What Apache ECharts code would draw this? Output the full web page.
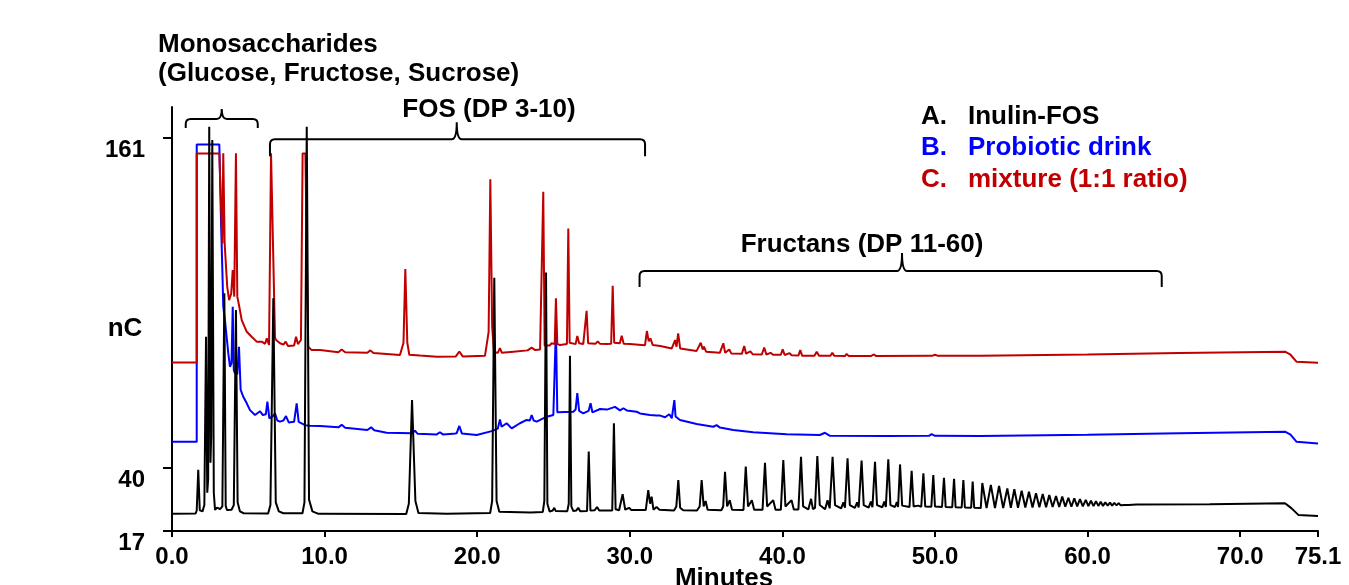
<!DOCTYPE html>
<html>
<head>
<meta charset="utf-8">
<script src="https://cdn.jsdelivr.net/npm/echarts@6/dist/echarts.min.js"></script>
<style>
  html, body { margin: 0; background: #fff; }
  #chart { width: 1349px; height: 585px; }
</style>
</head>
<body>
<div id="chart"></div>
<script>
// tick labels
const xTicks = [0, 10, 20, 30, 40, 50, 60, 70, 75.1];
const yTicks = [17, 40, 161];

// A. Inulin-FOS  [minutes, nC]
const traceA = [
  [0, 23.3], [1.55, 23.4], [1.62, 24.5], [1.72, 39.4], [1.82, 24.6], [2.0, 24.2], [2.12, 26.5], [2.23, 88.2],
  [2.31, 31], [2.37, 36], [2.44, 165.2], [2.52, 42], [2.57, 52], [2.64, 160.3], [2.74, 31], [2.82, 24.7],
  [2.95, 25.6], [3.05, 26.2], [3.15, 25.0], [3.3, 26.0], [3.43, 104.1], [3.52, 26.2], [3.6, 24.7], [3.9, 24.8],
  [4.05, 26.5], [4.19, 98.0], [4.3, 27.5], [4.45, 24.2], [4.7, 23.5], [6.3, 23.4], [6.45, 26.5], [6.64, 102.3],
  [6.8, 27.5], [7.0, 24.2], [7.3, 23.5], [8.55, 23.5], [8.68, 27.5], [8.83, 165.2], [8.98, 28.5], [9.2, 24.2],
  [9.6, 23.3], [15.35, 23.2], [15.52, 27], [15.73, 65.0], [15.95, 28], [16.15, 23.6], [18.0, 23.3], [20.85, 23.6],
  [20.98, 28], [21.12, 109.8], [21.27, 28], [21.45, 24.1], [23.5, 23.8], [24.3, 24.0], [24.4, 28], [24.51, 111.7],
  [24.6, 27], [24.75, 24.1], [24.95, 24.5], [25.05, 25.5], [25.15, 24.3], [25.9, 24.2], [26.0, 27], [26.08, 81.2],
  [26.17, 26], [26.3, 24.3], [26.5, 24.5], [26.62, 25.5], [26.75, 24.2], [27.2, 24.3], [27.31, 46.1], [27.42, 24.5],
  [27.7, 24.6], [27.85, 25.8], [28.0, 24.5], [28.85, 24.5], [28.96, 56.5], [29.07, 25], [29.3, 24.6], [29.53, 30.5],
  [29.7, 24.8], [29.95, 25.5], [30.1, 24.7], [31.05, 24.7], [31.21, 32.0], [31.33, 27], [31.43, 29.6], [31.55, 24.8],
  [31.75, 25.8], [31.95, 24.8], [32.9, 24.5], [33.05, 26], [33.18, 35.7], [33.3, 25.5], [33.5, 24.6], [34.4, 24.5],
  [34.58, 26], [34.71, 35.7], [34.84, 26], [34.97, 28.0], [35.1, 24.8], [36.0, 24.6], [36.12, 26], [36.24, 38.7],
  [36.38, 26], [36.55, 28.3], [36.7, 24.8], [37.45, 24.7], [37.6, 40.6], [37.75, 26], [38.0, 28.3], [38.15, 24.8],
  [38.7, 24.8], [38.86, 42.0], [39.0, 26], [39.4, 28.3], [39.55, 24.8], [39.9, 24.8], [40.06, 43.0], [40.2, 26],
  [40.6, 28.3], [40.75, 24.9], [41.05, 24.9], [41.22, 44.2], [41.36, 26], [41.7, 24.9], [41.88, 28.8], [42.0, 25],
  [42.14, 25.5], [42.29, 44.5], [42.45, 26.5], [42.8, 25], [42.96, 28.3], [43.1, 25.3], [43.29, 44.2], [43.45, 26.5],
  [43.85, 25.3], [44.0, 27.5], [44.1, 25.5], [44.27, 43.6], [44.42, 26.5], [44.75, 25.5], [44.9, 27.5], [45.0, 25.6],
  [45.19, 42.8], [45.33, 26.5], [45.65, 25.6], [45.8, 27.8], [45.9, 25.7], [46.07, 42.4], [46.2, 26.5], [46.55, 25.7],
  [46.68, 27.8], [46.78, 25.8], [46.94, 43.3], [47.08, 26.5], [47.38, 25.8], [47.5, 27.6], [47.58, 25.8], [47.71, 41.4],
  [47.85, 26.3], [48.33, 25.8], [48.47, 39.1], [48.6, 26], [48.9, 26.3], [49.1, 25.9], [49.24, 38.1], [49.36, 26],
  [49.76, 25.9], [49.89, 37.5], [50.0, 26], [50.46, 25.8], [50.59, 36.5], [50.7, 25.8], [51.13, 25.7], [51.25, 36.1],
  [51.35, 25.7], [51.75, 25.6], [51.86, 35.7], [51.96, 25.6], [52.37, 25.5], [52.47, 35.1], [52.57, 25.5], [53.0, 25.4],
  [53.1, 34.6], [53.38, 25.4], [53.66, 33.9], [53.93, 25.4], [54.2, 33.5], [54.47, 25.4], [54.74, 32.6], [54.97, 25.5],
  [55.2, 32.3], [55.44, 25.5], [55.68, 31.8], [55.92, 25.6], [56.16, 31.4], [56.39, 25.6], [56.62, 30.8], [56.84, 25.7],
  [57.06, 30.6], [57.28, 25.7], [57.49, 30.2], [57.71, 25.8], [57.93, 29.8], [58.14, 25.8], [58.34, 29.6], [58.54, 25.9],
  [58.74, 29.2], [58.94, 25.9], [59.13, 29.0], [59.32, 26.0], [59.5, 28.7], [59.69, 26.0], [59.88, 28.4], [60.05, 26.1],
  [60.22, 28.1], [60.39, 26.1], [60.55, 27.9], [60.71, 26.2], [60.86, 27.7], [61.01, 26.2], [61.16, 27.5], [61.32, 26.3],
  [61.47, 27.4], [61.61, 26.3], [61.75, 27.3], [61.9, 26.4], [62.04, 27.2], [62.17, 26.4], [62.3, 27.0], [62.43, 26.5],
  [62.56, 27.0], [62.69, 26.5], [62.82, 26.9], [63.2, 26.7], [68.0, 26.8], [72.94, 27.2], [73.37, 25.3], [73.81, 22.9],
  [75.1, 22.5]
];

// B. Probiotic drink
const traceB = [
  [0, 49.7], [1.62, 49.7], [1.62, 158.7], [3.10, 158.7], [3.21, 131.0], [3.30, 112.6], [3.36, 99.2], [3.47, 94.3],
  [3.58, 88.2], [3.69, 82.1], [3.80, 77.2], [3.9, 78.5], [3.98, 99.2], [4.05, 76], [4.12, 74.8], [4.28, 74.5],
  [4.39, 84.5], [4.50, 68.7], [4.67, 66.2], [4.90, 63.8], [5.11, 61.3], [5.44, 59.5], [5.77, 60.9], [5.95, 59.5],
  [6.15, 59.8], [6.25, 64.4], [6.38, 58.3], [6.6, 59], [6.75, 60.1], [6.9, 57.5], [7.08, 57.1], [7.3, 57.5],
  [7.47, 59.1], [7.65, 56.8], [7.73, 56.5], [8.0, 57], [8.17, 63.8], [8.3, 57], [8.39, 56.5], [8.72, 55.8],
  [9.04, 55.6], [9.7, 55.5], [10.9, 55.0], [11.12, 55.9], [11.35, 54.8], [12.8, 54.0], [13.05, 55.0], [13.25, 53.9],
  [14.07, 53.0], [15.75, 52.8], [15.92, 53.8], [16.1, 52.6], [17.35, 52.4], [17.56, 53.2], [17.75, 52.4], [18.43, 52.6],
  [18.65, 52.8], [18.83, 55.5], [19.0, 52.7], [19.97, 52.2], [20.95, 53.6], [21.35, 54.5], [21.49, 57.9], [21.6, 55.2],
  [21.71, 55.2], [21.93, 56.5], [22.26, 54.6], [22.8, 56.5], [23.24, 57.7], [23.45, 57.5], [23.57, 59.5], [23.7, 57.5],
  [23.9, 57.1], [24.55, 58.9], [24.99, 59.5], [25.08, 60], [25.16, 91.3], [25.25, 60.5], [25.38, 60.1], [26.3, 60.7],
  [26.45, 61.5], [26.56, 67.5], [26.68, 61], [26.95, 60.1], [27.3, 61], [27.43, 63.8], [27.55, 60.5], [27.61, 60.1],
  [28.05, 61.7], [28.5, 61.5], [29.03, 62.5], [29.36, 61.2], [29.58, 62.0], [29.8, 61.2], [30.45, 60.7], [30.67, 60.1],
  [31.32, 59.5], [31.75, 59.3], [31.87, 59.8], [32.0, 59.3], [32.31, 58.7], [32.59, 59.8], [32.75, 58.3], [32.85, 59],
  [32.92, 65.0], [33.0, 59], [33.07, 58.3], [33.29, 57.7], [34.38, 56.2], [35.47, 55.2], [35.69, 55.8], [35.91, 54.9],
  [36.78, 54.0], [38.09, 53.2], [40.28, 52.5], [42.46, 52.2], [42.79, 53.0], [43.12, 51.9], [46.83, 51.8], [49.6, 51.9],
  [49.78, 52.5], [50.0, 51.9], [52.95, 51.8], [60, 52.3], [66, 52.8], [72.94, 53.4], [73.3, 52.3], [73.7, 49.7],
  [75.1, 49.1]
];

// C. mixture (1:1 ratio)
const traceC = [
  [0, 78.8], [1.62, 78.8], [1.62, 155.4], [3.10, 155.4], [3.21, 137.1], [3.30, 122.4], [3.36, 155.4], [3.45, 122.4],
  [3.54, 113.9], [3.62, 106.5], [3.74, 101.6], [3.88, 104], [3.98, 112.6], [4.08, 102.9], [4.19, 155.4], [4.28, 102.9],
  [4.41, 99.2], [4.57, 94.3], [4.90, 90.0], [5.22, 88.2], [5.55, 86.4], [5.88, 86.4], [6.1, 85.6], [6.21, 87.6],
  [6.36, 85.2], [6.49, 155.4], [6.62, 155.4], [6.75, 88], [6.82, 87.0], [7.08, 85.8], [7.3, 85.3], [7.45, 86.4],
  [7.6, 84.8], [7.73, 84.5], [8.0, 85], [8.13, 88.2], [8.25, 85.5], [8.45, 87], [8.56, 155.4], [8.74, 155.4],
  [8.93, 84.5], [9.15, 83.3], [9.7, 83.3], [10.9, 82.5], [11.12, 83.5], [11.35, 82.5], [12.8, 82.3], [13.0, 83.2],
  [13.2, 82.2], [14.94, 81.5], [15.05, 81.6], [15.17, 86], [15.29, 113.0], [15.42, 86], [15.55, 81.6], [16.25, 81.3],
  [17.35, 80.9], [18.6, 81.0], [18.83, 82.8], [19.05, 81.0], [20.51, 81.2], [20.62, 81.5], [20.75, 90], [20.86, 145.9],
  [20.98, 92], [21.1, 82.5], [21.35, 82.3], [21.49, 84.0], [21.62, 82.3], [22.37, 82.7], [23.3, 83.2], [23.57, 84.2],
  [23.8, 83.3], [24.12, 83.5], [24.22, 84.0], [24.33, 141.3], [24.42, 85.0], [24.55, 84.5], [24.75, 85.0], [24.88, 85.8],
  [25.08, 85.5], [25.16, 102.3], [25.25, 85.5], [25.43, 85.2], [25.88, 85.5], [25.97, 127.9], [26.06, 86.0], [26.19, 85.5],
  [26.45, 85.5], [26.56, 88.5], [26.68, 85.8], [26.95, 85.5], [27.08, 85.6], [27.17, 97.7], [27.27, 85.8], [27.75, 85.6],
  [27.9, 86.5], [28.05, 85.6], [28.49, 85.5], [28.78, 85.6], [28.88, 106.9], [28.98, 86.0], [29.35, 85.8], [29.47, 88.6],
  [29.6, 85.6], [30.01, 85.5], [30.78, 85.2], [31.0, 85.1], [31.12, 90.3], [31.24, 86.5], [31.35, 87.6], [31.5, 85.2],
  [32.0, 84.8], [32.75, 83.9], [32.88, 84.3], [32.97, 87.0], [33.06, 84.5], [33.17, 89.4], [33.3, 83.9], [34.38, 83.0],
  [34.65, 86.0], [34.78, 83.5], [34.86, 84.6], [35.0, 82.7], [35.9, 82.3], [36.13, 85.8], [36.25, 82.3], [36.52, 83.5],
  [36.65, 82.1], [37.35, 82.0], [37.5, 84.8], [37.62, 82.0], [37.9, 82.8], [38.05, 81.8], [38.65, 81.7], [38.81, 84.2],
  [38.95, 81.7], [39.23, 82.3], [39.38, 81.6], [39.9, 81.6], [40.02, 83.6], [40.15, 81.5], [40.47, 82.2], [40.6, 81.4],
  [41.05, 81.3], [41.17, 83.3], [41.3, 81.2], [42.1, 81.2], [42.25, 82.7], [42.4, 81.2], [43.15, 81.2], [43.27, 82.3],
  [43.4, 81.2], [44.1, 81.1], [44.21, 81.9], [44.35, 81.1], [45.8, 81.1], [46.0, 81.7], [46.15, 81.1], [49.8, 81.2],
  [50.0, 81.6], [50.2, 81.2], [52.95, 81.2], [60, 81.7], [66, 82.2], [72.94, 82.7], [73.3, 81.6], [73.7, 79.0],
  [75.1, 78.7]
];

// brace annotations over the peak groups (minutes / nC), drop & rise in px
const brackets = [
  { from: 0.9, to: 5.62, mid: 3.26, level: 168.0, drop: 9, rise: 10 },
  { from: 6.42, to: 31.0, mid: 18.66, level: 160.6, drop: 17, rise: 17 },
  { from: 30.64, to: 64.86, mid: 47.84, level: 112.3, drop: 16, rise: 18 }
];

const FONT = '"Liberation Sans", Arial, sans-serif';
const chart = echarts.init(document.getElementById('chart'));

function label(text, x, y, color, align) {
  return {
    type: 'text', silent: true,
    style: {
      text: text, x: x, y: y, fill: color || '#000',
      font: 'bold 26px ' + FONT, align: align || 'left', verticalAlign: 'middle'
    }
  };
}

function traceSeries(name, data, color) {
  return {
    name: name, type: 'line', data: data, symbol: 'none',
    lineStyle: { color: color, width: 2 }, z: 3
  };
}

chart.setOption({
  animation: false,
  backgroundColor: '#fff',
  grid: { left: 172, right: 31, top: 107, bottom: 54 },
  xAxis: {
    type: 'value', min: 0, max: 75.1,
    axisLine: { lineStyle: { color: '#000', width: 2 } },
    axisTick: { length: 6, lineStyle: { color: '#000', width: 2 }, customValues: xTicks },
    axisLabel: {
      customValues: xTicks, margin: 14, color: '#000',
      fontFamily: FONT, fontWeight: 'bold', fontSize: 24,
      formatter: v => v.toFixed(1)
    },
    splitLine: { show: false }
  },
  yAxis: {
    type: 'value', min: 17, max: 172.4,
    axisLine: { show: true, lineStyle: { color: '#000', width: 2 } },
    axisTick: { show: true, length: 9, lineStyle: { color: '#000', width: 2 }, customValues: yTicks },
    axisLabel: {
      customValues: yTicks, margin: 27, color: '#000', verticalAlign: 'top',
      fontFamily: FONT, fontWeight: 'bold', fontSize: 24
    },
    splitLine: { show: false }
  },
  series: [
    traceSeries('B. Probiotic drink', traceB, '#0000ff'),
    traceSeries('C. mixture (1:1 ratio)', traceC, '#c00000'),
    traceSeries('A. Inulin-FOS', traceA, '#000000'),
    {
      type: 'custom', silent: true, clip: false, z: 4,
      encode: { x: [0, 1, 2], y: 3 },
      data: brackets.map(b => [b.from, b.to, b.mid, b.level]),
      renderItem: function (params, api) {
        const b = brackets[params.dataIndex];
        const l = api.coord([b.from, b.level]);
        const r = api.coord([b.to, b.level]);
        const c = api.coord([b.mid, b.level]);
        const y = l[1], k = 5;
        const d = 'M' + l[0] + ' ' + (y + b.drop) + ' L' + l[0] + ' ' + (y + k) +
          ' Q' + l[0] + ' ' + y + ' ' + (l[0] + k) + ' ' + y +
          ' L' + (c[0] - k) + ' ' + y + ' Q' + c[0] + ' ' + y + ' ' + c[0] + ' ' + (y - b.rise) +
          ' Q' + c[0] + ' ' + y + ' ' + (c[0] + k) + ' ' + y +
          ' L' + (r[0] - k) + ' ' + y + ' Q' + r[0] + ' ' + y + ' ' + r[0] + ' ' + (y + k) +
          ' L' + r[0] + ' ' + (y + b.drop);
        return {
          type: 'path', shape: { pathData: d },
          style: { stroke: '#000', lineWidth: 2, fill: 'none' }
        };
      }
    }
  ],
  graphic: [
    label('Monosaccharides', 158, 45),
    label('(Glucose, Fructose, Sucrose)', 158, 74),
    label('FOS (DP 3-10)', 489, 110, '#000', 'center'),
    label('Fructans (DP 11-60)', 862, 245, '#000', 'center'),
    label('nC', 125, 329, '#000', 'center'),
    label('Minutes', 724, 579, '#000', 'center'),
    label('A.', 921, 117),
    label('Inulin-FOS', 968, 117),
    label('B.', 921, 148, '#0000ff'),
    label('Probiotic drink', 968, 148, '#0000ff'),
    label('C.', 921, 180, '#c00000'),
    label('mixture (1:1 ratio)', 968, 180, '#c00000')
  ]
});
</script>
</body>
</html>
